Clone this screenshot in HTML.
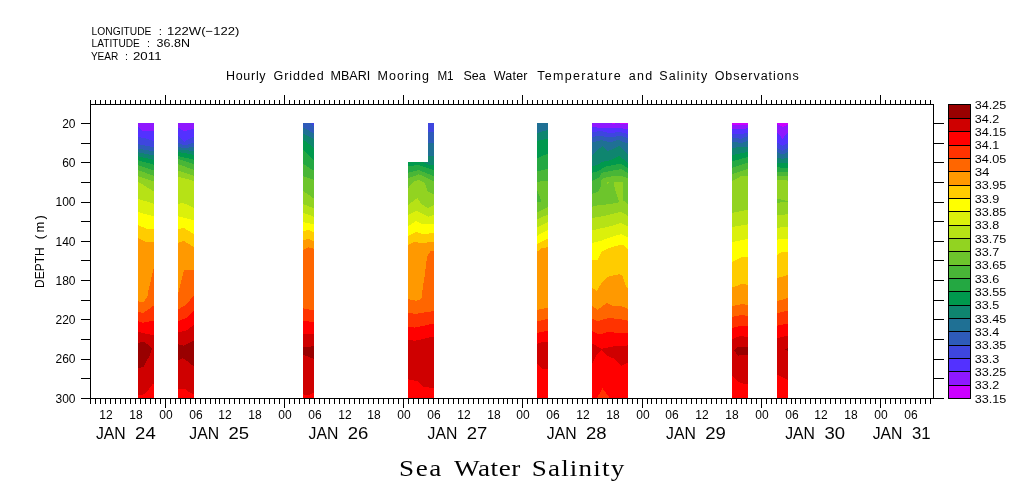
<!DOCTYPE html>
<html><head><meta charset="utf-8"><title>Sea Water Salinity</title>
<style>html,body{margin:0;padding:0;background:#fff}svg{display:block}text{font-family:"Liberation Sans",sans-serif;fill:#000}.s{font-family:"Liberation Serif",serif}</style>
</head><body>
<svg width="1009" height="504" viewBox="0 0 1009 504">
<rect width="1009" height="504" fill="#fff"/>
<defs>
<clipPath id="c0"><polygon points="138,123 154,123 154,398 138,398"/></clipPath>
<clipPath id="c1"><polygon points="178,123 194,123 194,398 178,398"/></clipPath>
<clipPath id="c2"><polygon points="303,123 314,123 314,398 303,398"/></clipPath>
<clipPath id="c3"><polygon points="428,123 434,123 434,398 408,398 408,162 428,162"/></clipPath>
<clipPath id="c4"><polygon points="537,123 548,123 548,398 537,398"/></clipPath>
<clipPath id="c5"><polygon points="592,123 628,123 628,398 592,398"/></clipPath>
<clipPath id="c6"><polygon points="732,123 748,123 748,398 732,398"/></clipPath>
<clipPath id="c7"><polygon points="777,123 788,123 788,398 777,398"/></clipPath>
</defs>
<g clip-path="url(#c0)" shape-rendering="crispEdges">
<rect x="138" y="123" width="16" height="275" fill="#8f18ff"/>
<polygon points="138,126.7 143,131 154,131 154,399 138,399" fill="#5331ff"/>
<polygon points="138,136.8 146,138.5 154,141 154,399 138,399" fill="#3e46de"/>
<polygon points="138,144 154,147.3 154,399 138,399" fill="#2e5bb9"/>
<polygon points="138,148.8 154,151.2 154,399 138,399" fill="#1f7094"/>
<polygon points="138,152.3 154,155.6 154,399 138,399" fill="#0f856f"/>
<polygon points="138,156.3 154,160 154,399 138,399" fill="#00994d"/>
<polygon points="138,160.3 154,164.7 154,399 138,399" fill="#24a842"/>
<polygon points="138,165 154,170.5 154,399 138,399" fill="#49b637"/>
<polygon points="138,170.3 154,175.7 154,399 138,399" fill="#6dc52c"/>
<polygon points="138,176 154,181.5 154,399 138,399" fill="#92d321"/>
<polygon points="138,181.6 154,191.7 154,399 138,399" fill="#b6e216"/>
<polygon points="138,198.9 154,203.8 154,399 138,399" fill="#dbf00b"/>
<polygon points="138,212.1 154,216.3 154,399 138,399" fill="#ffff00"/>
<polygon points="138,224.8 146,228.7 154,228.9 154,399 138,399" fill="#ffcc00"/>
<polygon points="138,238 146,241.9 154,241.9 154,399 138,399" fill="#ff9900"/>
<polygon points="138,301.2 143.2,302.6 147.5,296.3 148,292 154,267 154,399 138,399" fill="#ff6600"/>
<polygon points="138,311.6 143.2,313 154,305.4 154,399 138,399" fill="#ff3300"/>
<polygon points="138,321.3 143.2,322.7 154,320.6 154,399 138,399" fill="#ff0000"/>
<polygon points="138,331.75 146,333.8 154,335.2 154,399 138,399" fill="#cf0000"/>
<polygon points="138,342.9 143.2,341.7 149.5,345.6 152,349.1 149.5,356 145.3,363 143.2,367.2 138,367.9" fill="#990000"/>
<polygon points="138,395.6 143.9,394.25 148.8,389.4 153,383.8 154,383.8 154,398 138,398" fill="#ff0000"/>
</g>
<g clip-path="url(#c1)" shape-rendering="crispEdges">
<rect x="178" y="123" width="16" height="275" fill="#8f18ff"/>
<polygon points="178,127.4 184,131.4 194,128.7 194,399 178,399" fill="#5331ff"/>
<polygon points="178,135.9 184,141.8 194,136.4 194,399 178,399" fill="#3e46de"/>
<polygon points="178,142.8 184,145.6 194,142.8 194,399 178,399" fill="#2e5bb9"/>
<polygon points="178,146.8 184,148.3 194,146.8 194,399 178,399" fill="#1f7094"/>
<polygon points="178,149.8 194,150.8 194,399 178,399" fill="#0f856f"/>
<polygon points="178,152 194,154.8 194,399 178,399" fill="#00994d"/>
<polygon points="178,156 194,159.7 194,399 178,399" fill="#24a842"/>
<polygon points="178,159 194,164.2 194,399 178,399" fill="#49b637"/>
<polygon points="178,164.2 194,169.8 194,399 178,399" fill="#6dc52c"/>
<polygon points="178,170.5 194,175.8 194,399 178,399" fill="#92d321"/>
<polygon points="178,176.8 194,180.9 194,399 178,399" fill="#b6e216"/>
<polygon points="178,203.8 183.4,203 194,207.9 194,399 178,399" fill="#dbf00b"/>
<polygon points="178,216.3 194,220.4 194,399 178,399" fill="#ffff00"/>
<polygon points="178,229.4 183.4,227.8 194,234.2 194,399 178,399" fill="#ffcc00"/>
<polygon points="178,242.8 183.5,240.8 194,247 194,399 178,399" fill="#ff9900"/>
<polygon points="178,294 183.9,270.3 194,270 194,399 178,399" fill="#ff6600"/>
<polygon points="178,309.5 186.3,304.7 194,294.9 194,399 178,399" fill="#ff3300"/>
<polygon points="178,321.3 186.3,317.9 194,310.9 194,399 178,399" fill="#ff0000"/>
<polygon points="178,332.4 186.3,330.4 194,324.8 194,399 178,399" fill="#cf0000"/>
<polygon points="178,344.25 183.5,345.6 194,340.8 194,399 178,399" fill="#990000"/>
<polygon points="178,360.2 182.8,358.1 187.7,361.6 194,366.5 194,399 178,399" fill="#cf0000"/>
<polygon points="178,389.1 185.3,389.1 188.8,392.2 194,394.25 194,399 178,399" fill="#ff0000"/>
</g>
<g clip-path="url(#c2)" shape-rendering="crispEdges">
<rect x="303" y="123" width="11" height="275" fill="#2e5bb9"/>
<polygon points="303,127.7 314,133.3 314,399 303,399" fill="#1f7094"/>
<polygon points="303,133.3 314,138.8 314,399 303,399" fill="#0f856f"/>
<polygon points="303,139.5 314,147.9 314,399 303,399" fill="#00994d"/>
<polygon points="303,149.9 314,160.4 314,399 303,399" fill="#24a842"/>
<polygon points="303,163.8 314,170.8 314,399 303,399" fill="#49b637"/>
<polygon points="303,176.3 314,179.8 314,399 303,399" fill="#6dc52c"/>
<polygon points="303,191 314,198.6 314,399 303,399" fill="#92d321"/>
<polygon points="303,204.2 314,208.3 314,399 303,399" fill="#b6e216"/>
<polygon points="303,212.8 314,216.7 314,399 303,399" fill="#dbf00b"/>
<polygon points="303,222.2 314,224.3 314,399 303,399" fill="#ffff00"/>
<polygon points="303,231.25 308.3,229.9 314,232.6 314,399 303,399" fill="#ffcc00"/>
<polygon points="303,240.5 308.3,238.9 314,241.3 314,399 303,399" fill="#ff9900"/>
<polygon points="303,249.8 308.3,247.4 314,248.8 314,399 303,399" fill="#ff6600"/>
<polygon points="303,308.2 314,310.6 314,399 303,399" fill="#ff3300"/>
<polygon points="303,320.7 314,322.1 314,399 303,399" fill="#ff0000"/>
<polygon points="303,334.3 314,333.9 314,399 303,399" fill="#cf0000"/>
<polygon points="303,347.4 314,346.1 314,399 303,399" fill="#990000"/>
<polygon points="303,354.7 314,359 314,399 303,399" fill="#cf0000"/>
<polygon points="303,394.25 307.7,395.2 314,392.9 314,399 303,399" fill="#ff0000"/>
<polygon points="314,123 314,127 310,123" fill="#3e46de"/>
</g>
<g clip-path="url(#c3)" shape-rendering="crispEdges">
<rect x="408" y="123" width="26" height="275" fill="#3e46de"/>
<polygon points="408,131.9 434,131.9 434,399 408,399" fill="#2e5bb9"/>
<polygon points="408,143 434,143 434,399 408,399" fill="#1f7094"/>
<polygon points="408,156.2 434,156.2 434,399 408,399" fill="#0f856f"/>
<polygon points="408,162 423,162 428.5,165 434,165.2 434,399 408,399" fill="#00994d"/>
<polygon points="408,166.3 418.8,164.9 427,168 434,170.1 434,399 408,399" fill="#24a842"/>
<polygon points="408,172.9 418.8,170.1 434,176.3 434,399 408,399" fill="#49b637"/>
<polygon points="408,178.4 418.8,174.25 434,181.2 434,399 408,399" fill="#6dc52c"/>
<polygon points="408,188.2 413.3,181.9 418.8,179.9 424.4,182.6 427.9,191.7 434,194.4 434,399 408,399" fill="#92d321"/>
<polygon points="408,204.9 417.4,197.9 421.6,204.2 427.9,208 434,204.9 434,399 408,399" fill="#b6e216"/>
<polygon points="408,215.3 416,210.8 423,213.9 427.9,216.7 434,215 434,399 408,399" fill="#dbf00b"/>
<polygon points="408,226.4 416,220.8 423,224.3 434,224.3 434,399 408,399" fill="#ffff00"/>
<polygon points="408,236.1 416,231.9 423,234 434,233 434,399 408,399" fill="#ffcc00"/>
<polygon points="408,245.2 413.3,242.2 423,242.9 434,241.9 434,399 408,399" fill="#ff9900"/>
<polygon points="408,299.1 416,300.8 421.3,299.1 423,286.6 425.1,272.7 427.2,256 430.6,251.2 434,250.8 434,399 408,399" fill="#ff6600"/>
<polygon points="408,313.1 416,313.75 434,311 434,399 408,399" fill="#ff3300"/>
<polygon points="408,326.7 415,327.6 434,323.5 434,399 408,399" fill="#ff0000"/>
<polygon points="408,340.3 416,340.6 434,336.4 434,399 408,399" fill="#cf0000"/>
<polygon points="408,379.4 417.4,381.1 423.7,387.3 434,387.7 434,399 408,399" fill="#ff0000"/>
</g>
<g clip-path="url(#c4)" shape-rendering="crispEdges">
<rect x="537" y="123" width="11" height="275" fill="#1f7094"/>
<polygon points="537,133 548,129.8 548,399 537,399" fill="#0f856f"/>
<polygon points="537,140.9 548,138.8 548,399 537,399" fill="#00994d"/>
<polygon points="537,158.3 548,153.4 548,399 537,399" fill="#24a842"/>
<polygon points="537,171.5 548,168.7 548,399 537,399" fill="#49b637"/>
<polygon points="537,181.8 548,180.5 548,399 537,399" fill="#6dc52c"/>
<polygon points="537,212.5 548,206.9 548,399 537,399" fill="#92d321"/>
<polygon points="537,219.2 548,214.6 548,399 537,399" fill="#b6e216"/>
<polygon points="537,227.5 548,222.2 548,399 537,399" fill="#dbf00b"/>
<polygon points="537,235.8 548,229.9 548,399 537,399" fill="#ffff00"/>
<polygon points="537,244 548,238.5 548,399 537,399" fill="#ffcc00"/>
<polygon points="537,251.9 541.25,248.4 548,247 548,399 537,399" fill="#ff9900"/>
<polygon points="537,310 548,307.5 548,399 537,399" fill="#ff6600"/>
<polygon points="537,321.4 548,318.9 548,399 537,399" fill="#ff3300"/>
<polygon points="537,332.8 548,330.8 548,399 537,399" fill="#ff0000"/>
<polygon points="537,343.9 542.6,341.9 548,341.9 548,399 537,399" fill="#cf0000"/>
<polygon points="537,364.1 542.6,368.6 548,368.6 548,399 537,399" fill="#ff0000"/>
<polygon points="537,190.3 541.7,201.4 537,202.1" fill="#49b637"/>
</g>
<g clip-path="url(#c5)" shape-rendering="crispEdges">
<rect x="592" y="123" width="36" height="275" fill="#8f18ff"/>
<polygon points="592,127 598.9,127.7 607.2,128 615.6,127.7 628,129.1 628,399 592,399" fill="#5331ff"/>
<polygon points="592,131.9 601.7,131.2 610,133.3 619.7,131.9 628,134 628,399 592,399" fill="#3e46de"/>
<polygon points="592,136.75 600.3,136 610,137.4 621.1,135.8 628,138.1 628,399 592,399" fill="#2e5bb9"/>
<polygon points="592,142.3 601.7,140.2 610,142.3 618.3,140 628,143.7 628,399 592,399" fill="#1f7094"/>
<polygon points="592,155.5 602.4,145.8 607.9,151.3 619,145.8 628,154.1 628,399 592,399" fill="#0f856f"/>
<polygon points="592,165.9 596.8,165.2 602.4,161.75 610,160.4 619.7,155.8 628,163.8 628,399 592,399" fill="#00994d"/>
<polygon points="592,172.9 598.9,170.8 604.4,166.9 612.8,165.2 620.4,163.6 628,168 628,399 592,399" fill="#24a842"/>
<polygon points="592,181.2 598.9,177.7 601.7,172.9 610,171 621.1,169.1 628,172.9 628,399 592,399" fill="#49b637"/>
<polygon points="592,193.75 598.2,191.7 600.3,188 601.7,179.1 607.2,177 619.7,175.5 628,178.2 628,399 592,399" fill="#6dc52c"/>
<polygon points="592,206.7 600.3,204.9 610,204.2 619.7,202.1 623.9,200.7 628,204.9 628,399 592,399" fill="#92d321"/>
<polygon points="592,218 600.3,216.7 610,214.6 621.1,211.8 628,216 628,399 592,399" fill="#b6e216"/>
<polygon points="592,230.6 600.3,228.5 610,226.4 621.1,222.9 628,226.4 628,399 592,399" fill="#dbf00b"/>
<polygon points="592,243 600.3,241 610,237.5 621.1,234 628,237.5 628,399 592,399" fill="#ffff00"/>
<polygon points="592,260.2 597.5,260.2 601.7,251.9 610,247.7 619.7,244.9 623.9,244.9 628,249.1 628,399 592,399" fill="#ffcc00"/>
<polygon points="592,287.3 596.8,291.5 601.7,282.4 607.2,276.9 619.7,274.1 622.5,276.2 626,286.6 628,288.7 628,399 592,399" fill="#ff9900"/>
<polygon points="592,306.1 597.5,309.6 607.2,303 612.8,305.8 621.1,306.1 628,308.9 628,399 592,399" fill="#ff6600"/>
<polygon points="592,318.6 597.5,321.4 608.6,317.9 621.1,319.3 628,320.7 628,399 592,399" fill="#ff3300"/>
<polygon points="592,331.1 598.9,334.6 608.6,331.8 615.6,332.8 628,332.8 628,399 592,399" fill="#ff0000"/>
<polygon points="592,343.7 601.7,348.7 612.8,346.5 628,345.4 628,399 592,399" fill="#cf0000"/>
<polygon points="592,364.4 596.8,354.7 601.7,350.2 607.2,355.8 614.2,358.6 621.8,365.8 628,362.7 628,399 592,399" fill="#ff0000"/>
<polygon points="612,123 614.5,123 614.5,123.8 612,123.8" fill="#cc00ff"/>
<polygon points="620,123 628,123 628,124.3 620,123.8" fill="#cc00ff"/>
<polygon points="614.2,182 623.2,182 623.2,201.6 619,201.8 617,195.8 614.2,186.1" fill="#92d321"/>
<polygon points="607.2,181.6 609,181.6 608.4,183.6 607.2,183.6" fill="#92d321"/>
<polygon points="597.2,398 602.4,388 609.7,398" fill="#ff3300"/>
</g>
<g clip-path="url(#c6)" shape-rendering="crispEdges">
<rect x="732" y="123" width="16" height="275" fill="#cc00ff"/>
<polygon points="732,125.2 748,124.7 748,399 732,399" fill="#8f18ff"/>
<polygon points="732,129.1 748,128.4 748,399 732,399" fill="#5331ff"/>
<polygon points="732,134 740,134.4 748,132.6 748,399 732,399" fill="#3e46de"/>
<polygon points="732,137.4 741.4,138.8 748,136 748,399 732,399" fill="#2e5bb9"/>
<polygon points="732,141.6 741.4,143 748,140.9 748,399 732,399" fill="#1f7094"/>
<polygon points="732,147.9 748,146.5 748,399 732,399" fill="#0f856f"/>
<polygon points="732,155.2 740,153.4 748,152 748,399 732,399" fill="#00994d"/>
<polygon points="732,161.3 748,156.9 748,399 732,399" fill="#24a842"/>
<polygon points="732,168 748,162.4 748,399 732,399" fill="#49b637"/>
<polygon points="732,174.25 748,168.7 748,399 732,399" fill="#6dc52c"/>
<polygon points="732,181 741.4,176 748,175.9 748,399 732,399" fill="#92d321"/>
<polygon points="732,212.8 748,209.7 748,399 732,399" fill="#b6e216"/>
<polygon points="732,227.1 748,224.3 748,399 732,399" fill="#dbf00b"/>
<polygon points="732,242.2 748,238.8 748,399 732,399" fill="#ffff00"/>
<polygon points="732,261.9 742.8,256.75 748,256.75 748,399 732,399" fill="#ffcc00"/>
<polygon points="732,287.7 742,283.8 748,284.9 748,399 732,399" fill="#ff9900"/>
<polygon points="732,306.1 742,304 748,305 748,399 732,399" fill="#ff6600"/>
<polygon points="732,316.9 741.4,315.1 748,315.8 748,399 732,399" fill="#ff3300"/>
<polygon points="732,328.1 740,325.8 748,326.25 748,399 732,399" fill="#ff0000"/>
<polygon points="732,339.2 740,336 748,336.9 748,399 732,399" fill="#cf0000"/>
<polygon points="732,375.8 737.2,381 742.8,383.6 748,383.8 748,399 732,399" fill="#ff0000"/>
<polygon points="748,346.8 737.9,346.6 734.2,350.4 737.9,355.6 748,354.8" fill="#990000"/>
</g>
<g clip-path="url(#c7)" shape-rendering="crispEdges">
<rect x="777" y="123" width="11" height="275" fill="#cc00ff"/>
<polygon points="777,124.25 782.5,127 788,124.25 788,399 777,399" fill="#8f18ff"/>
<polygon points="777,131.9 782.5,138.8 788,131.9 788,399 777,399" fill="#5331ff"/>
<polygon points="777,142.3 782.5,145.8 788,143 788,399 777,399" fill="#3e46de"/>
<polygon points="777,147.9 782.5,150.6 788,147.9 788,399 777,399" fill="#2e5bb9"/>
<polygon points="777,152 782.5,154.4 788,152 788,399 777,399" fill="#1f7094"/>
<polygon points="777,157.6 782.5,159 788,157.6 788,399 777,399" fill="#0f856f"/>
<polygon points="777,162.7 788,162.7 788,399 777,399" fill="#00994d"/>
<polygon points="777,167.3 788,168 788,399 777,399" fill="#24a842"/>
<polygon points="777,171.5 788,172.2 788,399 777,399" fill="#49b637"/>
<polygon points="777,175.6 788,176.3 788,399 777,399" fill="#6dc52c"/>
<polygon points="777,180.6 782.5,179.5 788,180.8 788,399 777,399" fill="#92d321"/>
<polygon points="777,215.3 788,214.2 788,399 777,399" fill="#b6e216"/>
<polygon points="777,227.8 788,226.7 788,399 777,399" fill="#dbf00b"/>
<polygon points="777,239.6 788,238.6 788,399 777,399" fill="#ffff00"/>
<polygon points="777,254.9 782.4,251.9 788,251.9 788,399 777,399" fill="#ffcc00"/>
<polygon points="777,278.3 788,274.8 788,399 777,399" fill="#ff9900"/>
<polygon points="777,301.2 788,298 788,399 777,399" fill="#ff6600"/>
<polygon points="777,313.3 788,310.6 788,399 777,399" fill="#ff3300"/>
<polygon points="777,325.8 788,323.5 788,399 777,399" fill="#ff0000"/>
<polygon points="777,338.3 788,335.6 788,399 777,399" fill="#cf0000"/>
<polygon points="777,374.4 782.4,377.2 788,379.9 788,399 777,399" fill="#ff0000"/>
<polygon points="777,198.6 788,201.1 788,201.8 777,202.8" fill="#6dc52c"/>
<polygon points="788,348 785.1,349.4 788,351.2" fill="#990000"/>
</g>
<g fill="#000" shape-rendering="crispEdges">
<rect x="90" y="104" width="844" height="1"/>
<rect x="90" y="398" width="844" height="1"/>
<rect x="90" y="104" width="1" height="295"/>
<rect x="933" y="104" width="1" height="295"/>
<rect x="90" y="100" width="1" height="4"/>
<rect x="90" y="398" width="1" height="6"/>
<rect x="95" y="100" width="1" height="4"/>
<rect x="95" y="398" width="1" height="6"/>
<rect x="100" y="100" width="1" height="4"/>
<rect x="100" y="398" width="1" height="6"/>
<rect x="105" y="100" width="1" height="4"/>
<rect x="105" y="398" width="1" height="6"/>
<rect x="110" y="100" width="1" height="4"/>
<rect x="110" y="398" width="1" height="6"/>
<rect x="115" y="100" width="1" height="4"/>
<rect x="115" y="398" width="1" height="6"/>
<rect x="120" y="100" width="1" height="4"/>
<rect x="120" y="398" width="1" height="6"/>
<rect x="125" y="100" width="1" height="4"/>
<rect x="125" y="398" width="1" height="6"/>
<rect x="130" y="100" width="1" height="4"/>
<rect x="130" y="398" width="1" height="6"/>
<rect x="135" y="100" width="1" height="4"/>
<rect x="135" y="398" width="1" height="6"/>
<rect x="140" y="100" width="1" height="4"/>
<rect x="140" y="398" width="1" height="6"/>
<rect x="145" y="100" width="1" height="4"/>
<rect x="145" y="398" width="1" height="6"/>
<rect x="150" y="100" width="1" height="4"/>
<rect x="150" y="398" width="1" height="6"/>
<rect x="155" y="100" width="1" height="4"/>
<rect x="155" y="398" width="1" height="6"/>
<rect x="160" y="100" width="1" height="4"/>
<rect x="160" y="398" width="1" height="6"/>
<rect x="165" y="95" width="1" height="9"/>
<rect x="165" y="398" width="1" height="10"/>
<rect x="170" y="100" width="1" height="4"/>
<rect x="170" y="398" width="1" height="6"/>
<rect x="175" y="100" width="1" height="4"/>
<rect x="175" y="398" width="1" height="6"/>
<rect x="180" y="100" width="1" height="4"/>
<rect x="180" y="398" width="1" height="6"/>
<rect x="185" y="100" width="1" height="4"/>
<rect x="185" y="398" width="1" height="6"/>
<rect x="190" y="100" width="1" height="4"/>
<rect x="190" y="398" width="1" height="6"/>
<rect x="195" y="100" width="1" height="4"/>
<rect x="195" y="398" width="1" height="6"/>
<rect x="200" y="100" width="1" height="4"/>
<rect x="200" y="398" width="1" height="6"/>
<rect x="205" y="100" width="1" height="4"/>
<rect x="205" y="398" width="1" height="6"/>
<rect x="210" y="100" width="1" height="4"/>
<rect x="210" y="398" width="1" height="6"/>
<rect x="215" y="100" width="1" height="4"/>
<rect x="215" y="398" width="1" height="6"/>
<rect x="219" y="100" width="1" height="4"/>
<rect x="219" y="398" width="1" height="6"/>
<rect x="224" y="100" width="1" height="4"/>
<rect x="224" y="398" width="1" height="6"/>
<rect x="229" y="100" width="1" height="4"/>
<rect x="229" y="398" width="1" height="6"/>
<rect x="234" y="100" width="1" height="4"/>
<rect x="234" y="398" width="1" height="6"/>
<rect x="239" y="100" width="1" height="4"/>
<rect x="239" y="398" width="1" height="6"/>
<rect x="244" y="100" width="1" height="4"/>
<rect x="244" y="398" width="1" height="6"/>
<rect x="249" y="100" width="1" height="4"/>
<rect x="249" y="398" width="1" height="6"/>
<rect x="254" y="100" width="1" height="4"/>
<rect x="254" y="398" width="1" height="6"/>
<rect x="259" y="100" width="1" height="4"/>
<rect x="259" y="398" width="1" height="6"/>
<rect x="264" y="100" width="1" height="4"/>
<rect x="264" y="398" width="1" height="6"/>
<rect x="269" y="100" width="1" height="4"/>
<rect x="269" y="398" width="1" height="6"/>
<rect x="274" y="100" width="1" height="4"/>
<rect x="274" y="398" width="1" height="6"/>
<rect x="279" y="100" width="1" height="4"/>
<rect x="279" y="398" width="1" height="6"/>
<rect x="284" y="95" width="1" height="9"/>
<rect x="284" y="398" width="1" height="10"/>
<rect x="289" y="100" width="1" height="4"/>
<rect x="289" y="398" width="1" height="6"/>
<rect x="294" y="100" width="1" height="4"/>
<rect x="294" y="398" width="1" height="6"/>
<rect x="299" y="100" width="1" height="4"/>
<rect x="299" y="398" width="1" height="6"/>
<rect x="304" y="100" width="1" height="4"/>
<rect x="304" y="398" width="1" height="6"/>
<rect x="309" y="100" width="1" height="4"/>
<rect x="309" y="398" width="1" height="6"/>
<rect x="314" y="100" width="1" height="4"/>
<rect x="314" y="398" width="1" height="6"/>
<rect x="319" y="100" width="1" height="4"/>
<rect x="319" y="398" width="1" height="6"/>
<rect x="324" y="100" width="1" height="4"/>
<rect x="324" y="398" width="1" height="6"/>
<rect x="329" y="100" width="1" height="4"/>
<rect x="329" y="398" width="1" height="6"/>
<rect x="334" y="100" width="1" height="4"/>
<rect x="334" y="398" width="1" height="6"/>
<rect x="339" y="100" width="1" height="4"/>
<rect x="339" y="398" width="1" height="6"/>
<rect x="344" y="100" width="1" height="4"/>
<rect x="344" y="398" width="1" height="6"/>
<rect x="349" y="100" width="1" height="4"/>
<rect x="349" y="398" width="1" height="6"/>
<rect x="354" y="100" width="1" height="4"/>
<rect x="354" y="398" width="1" height="6"/>
<rect x="359" y="100" width="1" height="4"/>
<rect x="359" y="398" width="1" height="6"/>
<rect x="363" y="100" width="1" height="4"/>
<rect x="363" y="398" width="1" height="6"/>
<rect x="368" y="100" width="1" height="4"/>
<rect x="368" y="398" width="1" height="6"/>
<rect x="373" y="100" width="1" height="4"/>
<rect x="373" y="398" width="1" height="6"/>
<rect x="378" y="100" width="1" height="4"/>
<rect x="378" y="398" width="1" height="6"/>
<rect x="383" y="100" width="1" height="4"/>
<rect x="383" y="398" width="1" height="6"/>
<rect x="388" y="100" width="1" height="4"/>
<rect x="388" y="398" width="1" height="6"/>
<rect x="393" y="100" width="1" height="4"/>
<rect x="393" y="398" width="1" height="6"/>
<rect x="398" y="100" width="1" height="4"/>
<rect x="398" y="398" width="1" height="6"/>
<rect x="403" y="95" width="1" height="9"/>
<rect x="403" y="398" width="1" height="10"/>
<rect x="408" y="100" width="1" height="4"/>
<rect x="408" y="398" width="1" height="6"/>
<rect x="413" y="100" width="1" height="4"/>
<rect x="413" y="398" width="1" height="6"/>
<rect x="418" y="100" width="1" height="4"/>
<rect x="418" y="398" width="1" height="6"/>
<rect x="423" y="100" width="1" height="4"/>
<rect x="423" y="398" width="1" height="6"/>
<rect x="428" y="100" width="1" height="4"/>
<rect x="428" y="398" width="1" height="6"/>
<rect x="433" y="100" width="1" height="4"/>
<rect x="433" y="398" width="1" height="6"/>
<rect x="438" y="100" width="1" height="4"/>
<rect x="438" y="398" width="1" height="6"/>
<rect x="443" y="100" width="1" height="4"/>
<rect x="443" y="398" width="1" height="6"/>
<rect x="448" y="100" width="1" height="4"/>
<rect x="448" y="398" width="1" height="6"/>
<rect x="453" y="100" width="1" height="4"/>
<rect x="453" y="398" width="1" height="6"/>
<rect x="458" y="100" width="1" height="4"/>
<rect x="458" y="398" width="1" height="6"/>
<rect x="463" y="100" width="1" height="4"/>
<rect x="463" y="398" width="1" height="6"/>
<rect x="468" y="100" width="1" height="4"/>
<rect x="468" y="398" width="1" height="6"/>
<rect x="473" y="100" width="1" height="4"/>
<rect x="473" y="398" width="1" height="6"/>
<rect x="478" y="100" width="1" height="4"/>
<rect x="478" y="398" width="1" height="6"/>
<rect x="483" y="100" width="1" height="4"/>
<rect x="483" y="398" width="1" height="6"/>
<rect x="488" y="100" width="1" height="4"/>
<rect x="488" y="398" width="1" height="6"/>
<rect x="493" y="100" width="1" height="4"/>
<rect x="493" y="398" width="1" height="6"/>
<rect x="498" y="100" width="1" height="4"/>
<rect x="498" y="398" width="1" height="6"/>
<rect x="503" y="100" width="1" height="4"/>
<rect x="503" y="398" width="1" height="6"/>
<rect x="507" y="100" width="1" height="4"/>
<rect x="507" y="398" width="1" height="6"/>
<rect x="512" y="100" width="1" height="4"/>
<rect x="512" y="398" width="1" height="6"/>
<rect x="517" y="100" width="1" height="4"/>
<rect x="517" y="398" width="1" height="6"/>
<rect x="522" y="95" width="1" height="9"/>
<rect x="522" y="398" width="1" height="10"/>
<rect x="527" y="100" width="1" height="4"/>
<rect x="527" y="398" width="1" height="6"/>
<rect x="532" y="100" width="1" height="4"/>
<rect x="532" y="398" width="1" height="6"/>
<rect x="537" y="100" width="1" height="4"/>
<rect x="537" y="398" width="1" height="6"/>
<rect x="542" y="100" width="1" height="4"/>
<rect x="542" y="398" width="1" height="6"/>
<rect x="547" y="100" width="1" height="4"/>
<rect x="547" y="398" width="1" height="6"/>
<rect x="552" y="100" width="1" height="4"/>
<rect x="552" y="398" width="1" height="6"/>
<rect x="557" y="100" width="1" height="4"/>
<rect x="557" y="398" width="1" height="6"/>
<rect x="562" y="100" width="1" height="4"/>
<rect x="562" y="398" width="1" height="6"/>
<rect x="567" y="100" width="1" height="4"/>
<rect x="567" y="398" width="1" height="6"/>
<rect x="572" y="100" width="1" height="4"/>
<rect x="572" y="398" width="1" height="6"/>
<rect x="577" y="100" width="1" height="4"/>
<rect x="577" y="398" width="1" height="6"/>
<rect x="582" y="100" width="1" height="4"/>
<rect x="582" y="398" width="1" height="6"/>
<rect x="587" y="100" width="1" height="4"/>
<rect x="587" y="398" width="1" height="6"/>
<rect x="592" y="100" width="1" height="4"/>
<rect x="592" y="398" width="1" height="6"/>
<rect x="597" y="100" width="1" height="4"/>
<rect x="597" y="398" width="1" height="6"/>
<rect x="602" y="100" width="1" height="4"/>
<rect x="602" y="398" width="1" height="6"/>
<rect x="607" y="100" width="1" height="4"/>
<rect x="607" y="398" width="1" height="6"/>
<rect x="612" y="100" width="1" height="4"/>
<rect x="612" y="398" width="1" height="6"/>
<rect x="617" y="100" width="1" height="4"/>
<rect x="617" y="398" width="1" height="6"/>
<rect x="622" y="100" width="1" height="4"/>
<rect x="622" y="398" width="1" height="6"/>
<rect x="627" y="100" width="1" height="4"/>
<rect x="627" y="398" width="1" height="6"/>
<rect x="632" y="100" width="1" height="4"/>
<rect x="632" y="398" width="1" height="6"/>
<rect x="637" y="100" width="1" height="4"/>
<rect x="637" y="398" width="1" height="6"/>
<rect x="642" y="95" width="1" height="9"/>
<rect x="642" y="398" width="1" height="10"/>
<rect x="647" y="100" width="1" height="4"/>
<rect x="647" y="398" width="1" height="6"/>
<rect x="651" y="100" width="1" height="4"/>
<rect x="651" y="398" width="1" height="6"/>
<rect x="656" y="100" width="1" height="4"/>
<rect x="656" y="398" width="1" height="6"/>
<rect x="661" y="100" width="1" height="4"/>
<rect x="661" y="398" width="1" height="6"/>
<rect x="666" y="100" width="1" height="4"/>
<rect x="666" y="398" width="1" height="6"/>
<rect x="671" y="100" width="1" height="4"/>
<rect x="671" y="398" width="1" height="6"/>
<rect x="676" y="100" width="1" height="4"/>
<rect x="676" y="398" width="1" height="6"/>
<rect x="681" y="100" width="1" height="4"/>
<rect x="681" y="398" width="1" height="6"/>
<rect x="686" y="100" width="1" height="4"/>
<rect x="686" y="398" width="1" height="6"/>
<rect x="691" y="100" width="1" height="4"/>
<rect x="691" y="398" width="1" height="6"/>
<rect x="696" y="100" width="1" height="4"/>
<rect x="696" y="398" width="1" height="6"/>
<rect x="701" y="100" width="1" height="4"/>
<rect x="701" y="398" width="1" height="6"/>
<rect x="706" y="100" width="1" height="4"/>
<rect x="706" y="398" width="1" height="6"/>
<rect x="711" y="100" width="1" height="4"/>
<rect x="711" y="398" width="1" height="6"/>
<rect x="716" y="100" width="1" height="4"/>
<rect x="716" y="398" width="1" height="6"/>
<rect x="721" y="100" width="1" height="4"/>
<rect x="721" y="398" width="1" height="6"/>
<rect x="726" y="100" width="1" height="4"/>
<rect x="726" y="398" width="1" height="6"/>
<rect x="731" y="100" width="1" height="4"/>
<rect x="731" y="398" width="1" height="6"/>
<rect x="736" y="100" width="1" height="4"/>
<rect x="736" y="398" width="1" height="6"/>
<rect x="741" y="100" width="1" height="4"/>
<rect x="741" y="398" width="1" height="6"/>
<rect x="746" y="100" width="1" height="4"/>
<rect x="746" y="398" width="1" height="6"/>
<rect x="751" y="100" width="1" height="4"/>
<rect x="751" y="398" width="1" height="6"/>
<rect x="756" y="100" width="1" height="4"/>
<rect x="756" y="398" width="1" height="6"/>
<rect x="761" y="95" width="1" height="9"/>
<rect x="761" y="398" width="1" height="10"/>
<rect x="766" y="100" width="1" height="4"/>
<rect x="766" y="398" width="1" height="6"/>
<rect x="771" y="100" width="1" height="4"/>
<rect x="771" y="398" width="1" height="6"/>
<rect x="776" y="100" width="1" height="4"/>
<rect x="776" y="398" width="1" height="6"/>
<rect x="781" y="100" width="1" height="4"/>
<rect x="781" y="398" width="1" height="6"/>
<rect x="786" y="100" width="1" height="4"/>
<rect x="786" y="398" width="1" height="6"/>
<rect x="791" y="100" width="1" height="4"/>
<rect x="791" y="398" width="1" height="6"/>
<rect x="795" y="100" width="1" height="4"/>
<rect x="795" y="398" width="1" height="6"/>
<rect x="800" y="100" width="1" height="4"/>
<rect x="800" y="398" width="1" height="6"/>
<rect x="805" y="100" width="1" height="4"/>
<rect x="805" y="398" width="1" height="6"/>
<rect x="810" y="100" width="1" height="4"/>
<rect x="810" y="398" width="1" height="6"/>
<rect x="815" y="100" width="1" height="4"/>
<rect x="815" y="398" width="1" height="6"/>
<rect x="820" y="100" width="1" height="4"/>
<rect x="820" y="398" width="1" height="6"/>
<rect x="825" y="100" width="1" height="4"/>
<rect x="825" y="398" width="1" height="6"/>
<rect x="830" y="100" width="1" height="4"/>
<rect x="830" y="398" width="1" height="6"/>
<rect x="835" y="100" width="1" height="4"/>
<rect x="835" y="398" width="1" height="6"/>
<rect x="840" y="100" width="1" height="4"/>
<rect x="840" y="398" width="1" height="6"/>
<rect x="845" y="100" width="1" height="4"/>
<rect x="845" y="398" width="1" height="6"/>
<rect x="850" y="100" width="1" height="4"/>
<rect x="850" y="398" width="1" height="6"/>
<rect x="855" y="100" width="1" height="4"/>
<rect x="855" y="398" width="1" height="6"/>
<rect x="860" y="100" width="1" height="4"/>
<rect x="860" y="398" width="1" height="6"/>
<rect x="865" y="100" width="1" height="4"/>
<rect x="865" y="398" width="1" height="6"/>
<rect x="870" y="100" width="1" height="4"/>
<rect x="870" y="398" width="1" height="6"/>
<rect x="875" y="100" width="1" height="4"/>
<rect x="875" y="398" width="1" height="6"/>
<rect x="880" y="95" width="1" height="9"/>
<rect x="880" y="398" width="1" height="10"/>
<rect x="885" y="100" width="1" height="4"/>
<rect x="885" y="398" width="1" height="6"/>
<rect x="890" y="100" width="1" height="4"/>
<rect x="890" y="398" width="1" height="6"/>
<rect x="895" y="100" width="1" height="4"/>
<rect x="895" y="398" width="1" height="6"/>
<rect x="900" y="100" width="1" height="4"/>
<rect x="900" y="398" width="1" height="6"/>
<rect x="905" y="100" width="1" height="4"/>
<rect x="905" y="398" width="1" height="6"/>
<rect x="910" y="100" width="1" height="4"/>
<rect x="910" y="398" width="1" height="6"/>
<rect x="915" y="100" width="1" height="4"/>
<rect x="915" y="398" width="1" height="6"/>
<rect x="920" y="100" width="1" height="4"/>
<rect x="920" y="398" width="1" height="6"/>
<rect x="925" y="100" width="1" height="4"/>
<rect x="925" y="398" width="1" height="6"/>
<rect x="930" y="100" width="1" height="4"/>
<rect x="930" y="398" width="1" height="6"/>
<rect x="81" y="123" width="9" height="1"/>
<rect x="933" y="123" width="11" height="1"/>
<rect x="81" y="143" width="9" height="1"/>
<rect x="933" y="143" width="11" height="1"/>
<rect x="81" y="162" width="9" height="1"/>
<rect x="933" y="162" width="11" height="1"/>
<rect x="81" y="182" width="9" height="1"/>
<rect x="933" y="182" width="11" height="1"/>
<rect x="81" y="202" width="9" height="1"/>
<rect x="933" y="202" width="11" height="1"/>
<rect x="81" y="221" width="9" height="1"/>
<rect x="933" y="221" width="11" height="1"/>
<rect x="81" y="241" width="9" height="1"/>
<rect x="933" y="241" width="11" height="1"/>
<rect x="81" y="260" width="9" height="1"/>
<rect x="933" y="260" width="11" height="1"/>
<rect x="81" y="280" width="9" height="1"/>
<rect x="933" y="280" width="11" height="1"/>
<rect x="81" y="300" width="9" height="1"/>
<rect x="933" y="300" width="11" height="1"/>
<rect x="81" y="319" width="9" height="1"/>
<rect x="933" y="319" width="11" height="1"/>
<rect x="81" y="339" width="9" height="1"/>
<rect x="933" y="339" width="11" height="1"/>
<rect x="81" y="359" width="9" height="1"/>
<rect x="933" y="359" width="11" height="1"/>
<rect x="81" y="378" width="9" height="1"/>
<rect x="933" y="378" width="11" height="1"/>
<rect x="81" y="398" width="9" height="1"/>
<rect x="933" y="398" width="11" height="1"/>
</g>
<g opacity="0.995">
<text x="75.5" y="127.6" font-size="12" text-anchor="end">20</text>
<text x="75.5" y="166.9" font-size="12" text-anchor="end">60</text>
<text x="75.5" y="206.2" font-size="12" text-anchor="end">100</text>
<text x="75.5" y="245.5" font-size="12" text-anchor="end">140</text>
<text x="75.5" y="284.7" font-size="12" text-anchor="end">180</text>
<text x="75.5" y="324.0" font-size="12" text-anchor="end">220</text>
<text x="75.5" y="363.3" font-size="12" text-anchor="end">260</text>
<text x="75.5" y="402.6" font-size="12" text-anchor="end">300</text>
<text transform="translate(44.2,288) rotate(-90)" font-size="13" textLength="40.6" lengthAdjust="spacingAndGlyphs">DEPTH</text>
<text transform="translate(44.2,239.2) rotate(-90)" font-size="13" textLength="24" lengthAdjust="spacing">(m)</text>
<text x="105.9" y="418.8" font-size="12" text-anchor="middle">12</text>
<text x="135.9" y="418.8" font-size="12" text-anchor="middle">18</text>
<text x="165.9" y="418.8" font-size="12" text-anchor="middle">00</text>
<text x="195.9" y="418.8" font-size="12" text-anchor="middle">06</text>
<text x="224.9" y="418.8" font-size="12" text-anchor="middle">12</text>
<text x="254.9" y="418.8" font-size="12" text-anchor="middle">18</text>
<text x="284.9" y="418.8" font-size="12" text-anchor="middle">00</text>
<text x="314.9" y="418.8" font-size="12" text-anchor="middle">06</text>
<text x="344.9" y="418.8" font-size="12" text-anchor="middle">12</text>
<text x="373.9" y="418.8" font-size="12" text-anchor="middle">18</text>
<text x="403.9" y="418.8" font-size="12" text-anchor="middle">00</text>
<text x="433.9" y="418.8" font-size="12" text-anchor="middle">06</text>
<text x="463.9" y="418.8" font-size="12" text-anchor="middle">12</text>
<text x="493.9" y="418.8" font-size="12" text-anchor="middle">18</text>
<text x="522.9" y="418.8" font-size="12" text-anchor="middle">00</text>
<text x="552.9" y="418.8" font-size="12" text-anchor="middle">06</text>
<text x="582.9" y="418.8" font-size="12" text-anchor="middle">12</text>
<text x="612.9" y="418.8" font-size="12" text-anchor="middle">18</text>
<text x="642.9" y="418.8" font-size="12" text-anchor="middle">00</text>
<text x="671.9" y="418.8" font-size="12" text-anchor="middle">06</text>
<text x="701.9" y="418.8" font-size="12" text-anchor="middle">12</text>
<text x="731.9" y="418.8" font-size="12" text-anchor="middle">18</text>
<text x="761.9" y="418.8" font-size="12" text-anchor="middle">00</text>
<text x="791.9" y="418.8" font-size="12" text-anchor="middle">06</text>
<text x="820.9" y="418.8" font-size="12" text-anchor="middle">12</text>
<text x="850.9" y="418.8" font-size="12" text-anchor="middle">18</text>
<text x="880.9" y="418.8" font-size="12" text-anchor="middle">00</text>
<text x="910.9" y="418.8" font-size="12" text-anchor="middle">06</text>
<text x="95.9" y="438.6" font-size="17.3" textLength="29.8" lengthAdjust="spacingAndGlyphs">JAN</text>
<text x="135.1" y="438.6" font-size="17.3" textLength="20.6" lengthAdjust="spacingAndGlyphs">24</text>
<text x="189.3" y="438.6" font-size="17.3" textLength="29.8" lengthAdjust="spacingAndGlyphs">JAN</text>
<text x="228.5" y="438.6" font-size="17.3" textLength="20.6" lengthAdjust="spacingAndGlyphs">25</text>
<text x="308.5" y="438.6" font-size="17.3" textLength="29.8" lengthAdjust="spacingAndGlyphs">JAN</text>
<text x="347.7" y="438.6" font-size="17.3" textLength="20.6" lengthAdjust="spacingAndGlyphs">26</text>
<text x="427.6" y="438.6" font-size="17.3" textLength="29.8" lengthAdjust="spacingAndGlyphs">JAN</text>
<text x="466.8" y="438.6" font-size="17.3" textLength="20.6" lengthAdjust="spacingAndGlyphs">27</text>
<text x="546.8" y="438.6" font-size="17.3" textLength="29.8" lengthAdjust="spacingAndGlyphs">JAN</text>
<text x="586.0" y="438.6" font-size="17.3" textLength="20.6" lengthAdjust="spacingAndGlyphs">28</text>
<text x="666.0" y="438.6" font-size="17.3" textLength="29.8" lengthAdjust="spacingAndGlyphs">JAN</text>
<text x="705.2" y="438.6" font-size="17.3" textLength="20.6" lengthAdjust="spacingAndGlyphs">29</text>
<text x="785.2" y="438.6" font-size="17.3" textLength="29.8" lengthAdjust="spacingAndGlyphs">JAN</text>
<text x="824.4" y="438.6" font-size="17.3" textLength="20.6" lengthAdjust="spacingAndGlyphs">30</text>
<text x="872.7" y="438.6" font-size="17.3" textLength="29.8" lengthAdjust="spacingAndGlyphs">JAN</text>
<text x="911.9" y="438.6" font-size="17.3" textLength="18.6" lengthAdjust="spacingAndGlyphs">31</text>
<text x="91.6" y="34.6" font-size="11.7" textLength="59.8" lengthAdjust="spacingAndGlyphs">LONGITUDE</text>
<text x="160.4" y="34.6" font-size="11.7" text-anchor="middle">:</text>
<text x="167.0" y="34.6" font-size="11.7" textLength="72.3" lengthAdjust="spacingAndGlyphs">122W(−122)</text>
<text x="91.6" y="46.8" font-size="10.6" textLength="48.2" lengthAdjust="spacingAndGlyphs">LATITUDE</text>
<text x="148.4" y="46.8" font-size="10.6" text-anchor="middle">:</text>
<text x="156.6" y="46.8" font-size="10.6" textLength="33.4" lengthAdjust="spacingAndGlyphs">36.8N</text>
<text x="90.9" y="59.6" font-size="10.6" textLength="27.5" lengthAdjust="spacingAndGlyphs">YEAR</text>
<text x="126.6" y="59.6" font-size="10.6" text-anchor="middle">:</text>
<text x="133.0" y="59.6" font-size="10.6" textLength="28.5" lengthAdjust="spacingAndGlyphs">2011</text>
<text x="226.0" y="80.3" font-size="12.5" textLength="39.6" lengthAdjust="spacing">Hourly</text>
<text x="273.6" y="80.3" font-size="12.5" textLength="50.0" lengthAdjust="spacing">Gridded</text>
<text x="330.5" y="80.3" font-size="12.5" textLength="39.8" lengthAdjust="spacingAndGlyphs">MBARI</text>
<text x="377.5" y="80.3" font-size="12.5" textLength="51.5" lengthAdjust="spacing">Mooring</text>
<text x="437.4" y="80.3" font-size="12.5" textLength="16.2" lengthAdjust="spacingAndGlyphs">M1</text>
<text x="463.5" y="80.3" font-size="12.5" textLength="22.3" lengthAdjust="spacing">Sea</text>
<text x="493.8" y="80.3" font-size="12.5" textLength="33.7" lengthAdjust="spacing">Water</text>
<text x="537.3" y="80.3" font-size="12.5" textLength="83.3" lengthAdjust="spacing">Temperature</text>
<text x="628.8" y="80.3" font-size="12.5" textLength="23.5" lengthAdjust="spacing">and</text>
<text x="659.2" y="80.3" font-size="12.5" textLength="48.0" lengthAdjust="spacing">Salinity</text>
<text x="714.7" y="80.3" font-size="12.5" textLength="84.0" lengthAdjust="spacing">Observations</text>
<text class="s" transform="translate(398.9,476) scale(1.13,1)" font-size="24" textLength="37.6" lengthAdjust="spacing">Sea</text>
<text class="s" transform="translate(453.9,476) scale(1.13,1)" font-size="24" textLength="58.8" lengthAdjust="spacing">Water</text>
<text class="s" transform="translate(531.7,476) scale(1.13,1)" font-size="24" textLength="81.9" lengthAdjust="spacing">Salinity</text>
<text x="974.7" y="109.3" font-size="10.9" textLength="31.6" lengthAdjust="spacingAndGlyphs">34.25</text>
<text x="974.7" y="122.7" font-size="10.9" textLength="24.5" lengthAdjust="spacingAndGlyphs">34.2</text>
<text x="974.7" y="136.0" font-size="10.9" textLength="31.6" lengthAdjust="spacingAndGlyphs">34.15</text>
<text x="974.7" y="149.4" font-size="10.9" textLength="24.5" lengthAdjust="spacingAndGlyphs">34.1</text>
<text x="974.7" y="162.7" font-size="10.9" textLength="31.6" lengthAdjust="spacingAndGlyphs">34.05</text>
<text x="974.7" y="176.0" font-size="10.9" textLength="14.8" lengthAdjust="spacingAndGlyphs">34</text>
<text x="974.7" y="189.4" font-size="10.9" textLength="31.6" lengthAdjust="spacingAndGlyphs">33.95</text>
<text x="974.7" y="202.7" font-size="10.9" textLength="24.5" lengthAdjust="spacingAndGlyphs">33.9</text>
<text x="974.7" y="216.0" font-size="10.9" textLength="31.6" lengthAdjust="spacingAndGlyphs">33.85</text>
<text x="974.7" y="229.4" font-size="10.9" textLength="24.5" lengthAdjust="spacingAndGlyphs">33.8</text>
<text x="974.7" y="242.7" font-size="10.9" textLength="31.6" lengthAdjust="spacingAndGlyphs">33.75</text>
<text x="974.7" y="256.0" font-size="10.9" textLength="24.5" lengthAdjust="spacingAndGlyphs">33.7</text>
<text x="974.7" y="269.4" font-size="10.9" textLength="31.6" lengthAdjust="spacingAndGlyphs">33.65</text>
<text x="974.7" y="282.7" font-size="10.9" textLength="24.5" lengthAdjust="spacingAndGlyphs">33.6</text>
<text x="974.7" y="296.1" font-size="10.9" textLength="31.6" lengthAdjust="spacingAndGlyphs">33.55</text>
<text x="974.7" y="309.4" font-size="10.9" textLength="24.5" lengthAdjust="spacingAndGlyphs">33.5</text>
<text x="974.7" y="322.7" font-size="10.9" textLength="31.6" lengthAdjust="spacingAndGlyphs">33.45</text>
<text x="974.7" y="336.1" font-size="10.9" textLength="24.5" lengthAdjust="spacingAndGlyphs">33.4</text>
<text x="974.7" y="349.4" font-size="10.9" textLength="31.6" lengthAdjust="spacingAndGlyphs">33.35</text>
<text x="974.7" y="362.7" font-size="10.9" textLength="24.5" lengthAdjust="spacingAndGlyphs">33.3</text>
<text x="974.7" y="376.1" font-size="10.9" textLength="31.6" lengthAdjust="spacingAndGlyphs">33.25</text>
<text x="974.7" y="389.4" font-size="10.9" textLength="24.5" lengthAdjust="spacingAndGlyphs">33.2</text>
<text x="974.7" y="402.7" font-size="10.9" textLength="31.6" lengthAdjust="spacingAndGlyphs">33.15</text>
</g>
<g shape-rendering="crispEdges">
<rect x="948" y="104.00" width="23" height="13.86" fill="#990000"/>
<rect x="948" y="118.00" width="23" height="13.86" fill="#cf0000"/>
<rect x="948" y="131.00" width="23" height="13.86" fill="#ff0000"/>
<rect x="948" y="145.00" width="23" height="13.86" fill="#ff3300"/>
<rect x="948" y="158.00" width="23" height="13.86" fill="#ff6600"/>
<rect x="948" y="171.00" width="23" height="13.86" fill="#ff9900"/>
<rect x="948" y="185.00" width="23" height="13.86" fill="#ffcc00"/>
<rect x="948" y="198.00" width="23" height="13.86" fill="#ffff00"/>
<rect x="948" y="211.00" width="23" height="13.86" fill="#dbf00b"/>
<rect x="948" y="225.00" width="23" height="13.86" fill="#b6e216"/>
<rect x="948" y="238.00" width="23" height="13.86" fill="#92d321"/>
<rect x="948" y="251.00" width="23" height="13.86" fill="#6dc52c"/>
<rect x="948" y="265.00" width="23" height="13.86" fill="#49b637"/>
<rect x="948" y="278.00" width="23" height="13.86" fill="#24a842"/>
<rect x="948" y="291.00" width="23" height="13.86" fill="#00994d"/>
<rect x="948" y="305.00" width="23" height="13.86" fill="#0f856f"/>
<rect x="948" y="318.00" width="23" height="13.86" fill="#1f7094"/>
<rect x="948" y="331.00" width="23" height="13.86" fill="#2e5bb9"/>
<rect x="948" y="345.00" width="23" height="13.86" fill="#3e46de"/>
<rect x="948" y="358.00" width="23" height="13.86" fill="#5331ff"/>
<rect x="948" y="371.00" width="23" height="13.86" fill="#8f18ff"/>
<rect x="948" y="385.00" width="23" height="13.86" fill="#cc00ff"/>
<rect x="948" y="104" width="23" height="1" fill="#000"/>
<rect x="948" y="118" width="23" height="1" fill="#000"/>
<rect x="948" y="131" width="23" height="1" fill="#000"/>
<rect x="948" y="145" width="23" height="1" fill="#000"/>
<rect x="948" y="158" width="23" height="1" fill="#000"/>
<rect x="948" y="171" width="23" height="1" fill="#000"/>
<rect x="948" y="185" width="23" height="1" fill="#000"/>
<rect x="948" y="198" width="23" height="1" fill="#000"/>
<rect x="948" y="211" width="23" height="1" fill="#000"/>
<rect x="948" y="225" width="23" height="1" fill="#000"/>
<rect x="948" y="238" width="23" height="1" fill="#000"/>
<rect x="948" y="251" width="23" height="1" fill="#000"/>
<rect x="948" y="265" width="23" height="1" fill="#000"/>
<rect x="948" y="278" width="23" height="1" fill="#000"/>
<rect x="948" y="291" width="23" height="1" fill="#000"/>
<rect x="948" y="305" width="23" height="1" fill="#000"/>
<rect x="948" y="318" width="23" height="1" fill="#000"/>
<rect x="948" y="331" width="23" height="1" fill="#000"/>
<rect x="948" y="345" width="23" height="1" fill="#000"/>
<rect x="948" y="358" width="23" height="1" fill="#000"/>
<rect x="948" y="371" width="23" height="1" fill="#000"/>
<rect x="948" y="385" width="23" height="1" fill="#000"/>
<rect x="948" y="398" width="23" height="1" fill="#000"/>
<rect x="948" y="104" width="1" height="295" fill="#000"/>
<rect x="970" y="104" width="1" height="295" fill="#000"/>
</g>
</svg></body></html>
